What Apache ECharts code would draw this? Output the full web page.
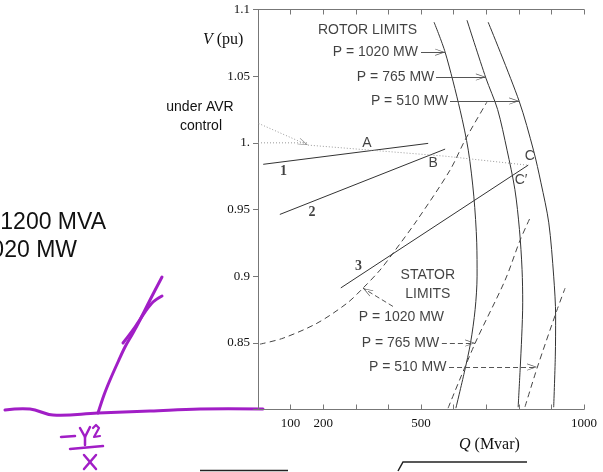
<!DOCTYPE html>
<html><head><meta charset="utf-8">
<script src="https://cdn.jsdelivr.net/npm/echarts@6/dist/echarts.min.js"></script>
<style>html,body{margin:0;padding:0;background:#fff}#c{width:603px;height:472px}</style>
</head><body><div id="c"></div>
<script>
// ---- data (Q in Mvar, V in pu) ----
const xLabelled = [100, 200, 500, 1000];
const yLabels = { 110: '1.1', 105: '1.05', 100: '1.', 95: '0.95', 90: '0.9', 85: '0.85' };

const rotor1020 = [[540,1.0905],[574,1.068],[620,1.0245],[645,0.9945],[662,0.960],[671,0.925],[672,0.90],[666,0.875],[652,0.85],[633,0.828],[607,0.801]];
const rotor765  = [[641,1.092],[699,1.0486],[735,1.025],[764,0.9945],[788,0.965],[802,0.935],[810,0.905],[812,0.88],[809,0.855],[804,0.8295],[798,0.8017]];
const rotor510  = [[706,1.0905],[801,1.0313],[845,0.9945],[868,0.970],[892,0.940],[907,0.90],[913,0.87],[912,0.84],[907,0.8017]];

const stator1020 = [[6,0.849],[77,0.8535],[181,0.8647],[273,0.8797],[322,0.891],[374,0.9045],[414,0.9172],[488,0.942],[589,0.9795],[635,1.002],[702,1.0305]];
const stator765  = [[583,0.801],[666,0.8497],[758,0.897],[804,0.927],[837,0.945]];
const stator510  = [[819,0.802],[856,0.831],[917,0.8745],[942,0.891]];

const line1 = [[16,0.9839],[522,0.9996]];
const line2 = [[67,0.9463],[574,0.9953]];
const line3 = [[254,0.8912],[829,0.9833]];

const avrLevel   = [[0,1.0],[153,1.0]];
const avrPath    = [[153,0.9983],[574,0.990],[825,0.9833]];
const avrPointer = [[-49,1.020],[153,0.9983]];

const rotorArrows  = [[[500,1.068],[574,1.068]], [[546,1.0493],[699,1.0493]], [[589,1.0313],[801,1.0313]]];
const statorArrows = [[[414,0.8773],[322,0.891]], [[564,0.8498],[666,0.8498]], [[586,0.8318],[856,0.8318]]];

const plotTexts = [
  [336,1.0845,'ROTOR LIMITS'],[360,1.068,'P = 1020 MW'],[422,1.0493,'P = 765 MW'],[465,1.0313,'P = 510 MW'],
  [521,0.9008,'STATOR'],[521,0.8865,'LIMITS'],[440,0.8693,'P = 1020 MW'],[437,0.8498,'P = 765 MW'],[459,0.8318,'P = 510 MW'],
  [334,0.9998,'A'],[537,0.9848,'B'],[834,0.990,'C'],[807,0.972,'C\u2032']
];
const lineNumbers = [[78,0.9788,'1'],[166,0.948,'2'],[308,0.9075,'3']];

// ---- chart ----
const arrowHead = 'path://M5,12 L10,24 L9,24 L5,14.5 L1,24 L0,24 Z M5,0 L5.01,0 L5,0.01 Z';
const sans = '"Liberation Sans", Arial, sans-serif';
const serif = '"Liberation Serif", "Times New Roman", serif';
const ink = '#333';

function curve(data, type, color) {
  return { type: 'line', data: data, smooth: 0.3, symbol: 'none', silent: true,
    lineStyle: { color: color || ink, width: 1, type: type || 'solid' } };
}
function straight(data, type, color) {
  return { type: 'line', data: data, symbol: 'none', silent: true,
    lineStyle: { color: color || ink, width: 1, type: type || 'solid' } };
}
function arrows(list, type, color) {
  return { type: 'line', data: [], silent: true,
    markLine: { silent: true, symbol: ['none', arrowHead], symbolSize: [7, 20], animation: false,
      label: { show: false }, emphasis: { disabled: true },
      lineStyle: { color: color, width: 1, type: type },
      data: list.map(p => [{ coord: p[0] }, { coord: p[1] }]) } };
}
function texts(list, font, color) {
  return { type: 'scatter', symbol: 'circle', symbolSize: 1, silent: true,
    itemStyle: { color: 'rgba(0,0,0,0)' },
    data: list.map(t => ({ value: [t[0], t[1]], name: t[2] })),
    label: { show: true, position: 'inside', formatter: p => p.name, color: color || '#111',
      fontFamily: font.family, fontSize: font.size, fontWeight: font.weight || 'normal' } };
}

const chart = echarts.init(document.getElementById('c'), null, { renderer: 'canvas' });
const purple = '#a11ec6';
chart.setOption({
  animation: false,
  grid: { left: 258, right: 19, top: 9.5, bottom: 62.5 },
  xAxis: [
    { type: 'value', min: 0, max: 1000, interval: 100, position: 'bottom',
      axisLine: { lineStyle: { color: '#777' } }, splitLine: { show: false },
      axisTick: { inside: true, length: 5, lineStyle: { color: '#777' } },
      axisLabel: { margin: 8, color: '#111', fontFamily: serif, fontSize: 13, showMaxLabel: true,
        formatter: v => xLabelled.includes(Math.round(v)) ? String(Math.round(v)) : '' } },
    { type: 'value', min: 0, max: 1000, interval: 100, position: 'top',
      axisLine: { lineStyle: { color: '#777' } }, splitLine: { show: false },
      axisTick: { inside: true, length: 5, lineStyle: { color: '#777' } }, axisLabel: { show: false } }
  ],
  yAxis: [
    { type: 'value', min: 0.8, max: 1.1, interval: 0.05, position: 'left',
      axisLine: { show: true, lineStyle: { color: '#777' } }, splitLine: { show: false },
      axisTick: { show: true, inside: false, length: 4, lineStyle: { color: '#777' } },
      axisLabel: { margin: 8, color: '#111', fontFamily: serif, fontSize: 13, showMaxLabel: true,
        formatter: v => yLabels[Math.round(v * 100)] || '' } },
    { type: 'value', min: 0.8, max: 1.1, interval: 0.05, position: 'right',
      axisLine: { show: true, lineStyle: { color: '#777' } }, splitLine: { show: false },
      axisTick: { show: true, inside: true, length: 5, lineStyle: { color: '#777' } }, axisLabel: { show: false } }
  ],
  series: [
    curve(rotor1020), curve(rotor765), curve(rotor510),
    curve(stator1020, [6, 4], '#444'), curve(stator765, [6, 4], '#444'), curve(stator510, [6, 4], '#444'),
    straight(line1), straight(line2), straight(line3),
    straight(avrLevel, [1, 2], '#999'), straight(avrPath, [1, 2], '#999'),
    { type: 'line', data: avrPointer.map((p, i) => i === avrPointer.length - 1
        ? { value: p, symbol: arrowHead, symbolSize: [7, 20], symbolRotate: -113.7 } : { value: p }),
      symbol: 'none', showSymbol: true, clip: false, silent: true,
      itemStyle: { color: '#888' }, lineStyle: { color: '#999', width: 1, type: [1, 2] } },
    arrows(rotorArrows, 'solid', '#555'),
    arrows(statorArrows, [5, 3], '#555'),
    texts(plotTexts, { family: sans, size: 14 }),
    texts(lineNumbers, { family: serif, size: 14, weight: 'bold' })
  ],
  graphic: [
    { type: 'text', x: 203, y: 32, silent: true, style: { text: '{i|V} (pu)', fill: '#111', font: '16px ' + serif,
      rich: { i: { fontStyle: 'italic', fontFamily: serif, fontSize: 16 } } } },
    { type: 'text', x: 459, y: 437, silent: true, style: { text: '{i|Q} (Mvar)', fill: '#111', font: '16px ' + serif,
      rich: { i: { fontStyle: 'italic', fontFamily: serif, fontSize: 16 } } } },
    { type: 'text', x: 200, y: 107, silent: true, style: { text: 'under AVR', align: 'center', verticalAlign: 'middle', fill: '#111', font: '14px ' + sans } },
    { type: 'text', x: 201, y: 126, silent: true, style: { text: 'control', align: 'center', verticalAlign: 'middle', fill: '#111', font: '14px ' + sans } },
    { type: 'text', x: 106, y: 223, silent: true, style: { text: '1200 MVA', align: 'right', verticalAlign: 'middle', fill: '#111', font: '23px ' + sans } },
    { type: 'text', x: 77, y: 251, silent: true, style: { text: '1020 MW', align: 'right', verticalAlign: 'middle', fill: '#111', font: '23px ' + sans } },
    // slide leftovers at bottom
    { type: 'line', silent: true, shape: { x1: 200, y1: 470.5, x2: 288, y2: 470.5 }, style: { stroke: '#222', lineWidth: 1.5 } },
    { type: 'polyline', silent: true, shape: { points: [[398,471],[403,462],[527,462]] }, style: { stroke: '#222', lineWidth: 1.5, fill: null } },
    // handwriting
    { type: 'polyline', silent: true, shape: { points: [[5,410],[30,409],[53,415],[98,413],[150,411],[200,409],[263,409]], smooth: 0.4 }, style: { stroke: purple, lineWidth: 3, fill: null, lineCap: 'round' } },
    { type: 'polyline', silent: true, shape: { points: [[98,413],[104,395],[110,380],[118,362],[125,347],[133,333],[140,320],[150,300],[162,277]], smooth: 0.3 }, style: { stroke: purple, lineWidth: 3, fill: null, lineCap: 'round' } },
    { type: 'polyline', silent: true, shape: { points: [[123,343],[135,327],[145,312],[153,302],[162,296]], smooth: 0.3 }, style: { stroke: purple, lineWidth: 3, fill: null, lineCap: 'round' } },
    { type: 'polyline', silent: true, shape: { points: [[61,437],[75,436]] }, style: { stroke: purple, lineWidth: 2.5, fill: null, lineCap: 'round' } },
    { type: 'polyline', silent: true, shape: { points: [[80,428],[85,437],[85,445]] }, style: { stroke: purple, lineWidth: 2.5, fill: null, lineCap: 'round', lineJoin: 'round' } },
    { type: 'polyline', silent: true, shape: { points: [[90,427],[85,437]] }, style: { stroke: purple, lineWidth: 2.5, fill: null, lineCap: 'round' } },
    { type: 'polyline', silent: true, shape: { points: [[93,428],[96,425],[99,428],[94,437],[100,436]] }, style: { stroke: purple, lineWidth: 2.2, fill: null, lineCap: 'round', lineJoin: 'round' } },
    { type: 'polyline', silent: true, shape: { points: [[70,449],[103,446]] }, style: { stroke: purple, lineWidth: 2.5, fill: null, lineCap: 'round' } },
    { type: 'polyline', silent: true, shape: { points: [[84,455],[96,469]] }, style: { stroke: purple, lineWidth: 2.5, fill: null, lineCap: 'round' } },
    { type: 'polyline', silent: true, shape: { points: [[96,455],[84,469]] }, style: { stroke: purple, lineWidth: 2.5, fill: null, lineCap: 'round' } }
  ]
});
</script></body></html>
